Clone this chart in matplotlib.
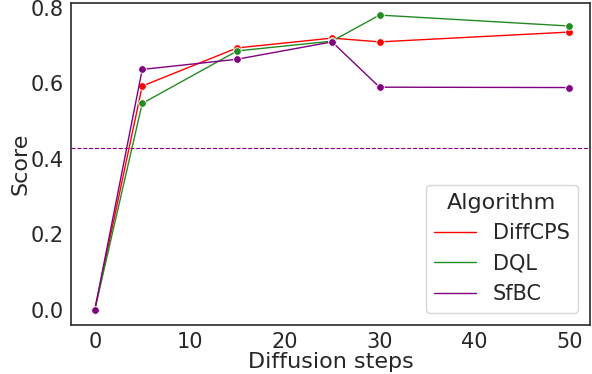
import numpy as np
import seaborn as sns
from matplotlib import pyplot as plt

steps = [0, 5, 15, 25, 30, 50]
diffcps = [0.0, 0.593, 0.694, 0.720, 0.710, 0.736]
dql = [0.0, 0.547, 0.686, 0.712, 0.781, 0.752]
sfbc = [0.0, 0.637, 0.664, 0.710, 0.590, 0.589]
baseline = 0.429

sns.set_theme(style="white", font_scale=1.5)
plt.rcParams['font.family'] = ['DejaVu Sans']

fig, ax = plt.subplots(figsize=(5.92, 3.74), dpi=100)

series = [("DiffCPS", diffcps, "red"), ("DQL", dql, "forestgreen"), ("SfBC", sfbc, "purple")]
for name, vals, col in series:
    ax.plot(steps, vals, color=col, linewidth=1, marker='o', markersize=5.5,
            markeredgecolor='white', markeredgewidth=0.6, label=name)

ax.axhline(baseline, color='purple', linestyle='--', linewidth=0.8)

ax.set_xlabel("Diffusion steps", fontsize=16, labelpad=0)
ax.set_ylabel("Score", fontsize=16, labelpad=0)
ax.set_xticks([0, 10, 20, 30, 40, 50])
ax.set_yticks([0.0, 0.2, 0.4, 0.6, 0.8])
ax.set_xlim(-2.5, 52.2)
ax.set_ylim(-0.04, 0.813)
ax.tick_params(axis='both', labelsize=15, length=0, pad=5)
for s in ax.spines.values():
    s.set_color('#333333')

leg = ax.legend(title="Algorithm", loc='lower right', fontsize=15, title_fontsize=16,
                handlelength=2.0, borderaxespad=0.6)
for line in leg.get_lines():
    line.set_marker('')

fig.subplots_adjust(left=0.12, right=0.997, bottom=0.131, top=0.992)
fig.savefig("out.png", dpi=100)
